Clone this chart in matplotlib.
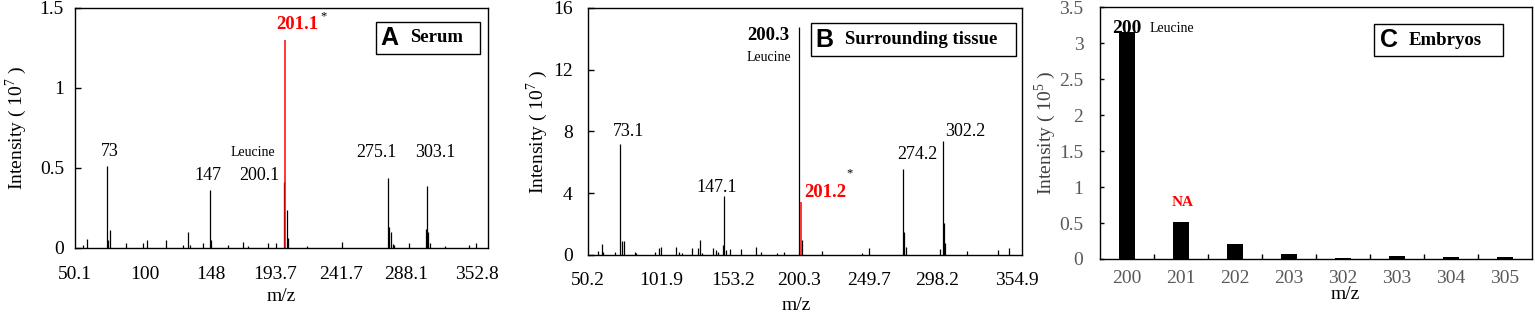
import numpy as np
import matplotlib
matplotlib.use("Agg")
import matplotlib.pyplot as plt
from matplotlib.patches import Rectangle

plt.rcParams['font.family'] = ['Liberation Serif', 'DejaVu Serif']
plt.rcParams['mathtext.fontset'] = 'custom'
plt.rcParams['mathtext.rm'] = 'Liberation Serif'

# ---- panel A: serum spectrum (intensity x 1e7) ----
serum_mz = [56.0, 58.9, 72.9, 73.6, 75.3, 86.8, 98.8, 101.7, 115.3, 127.5, 131.6, 132.8,
            142.4, 147.0, 147.6, 159.9, 170.7, 174.8, 189.2, 194.5, 200.1, 202.4, 203.5,
            216.8, 242.4, 275.1, 276.0, 277.3, 278.6, 279.6, 290.4, 302.4, 303.1, 304.0,
            305.5, 316.3, 333.8, 338.6]
serum_int = [0.02, 0.056, 0.514, 0.05, 0.11, 0.03, 0.03, 0.05, 0.05, 0.02, 0.10, 0.02,
             0.03, 0.36, 0.05, 0.02, 0.04, 0.01, 0.03, 0.03, 0.41, 0.24, 0.06,
             0.01, 0.04, 0.44, 0.13, 0.10, 0.025, 0.02, 0.03, 0.12, 0.39, 0.10,
             0.03, 0.01, 0.02, 0.03]
serum_red_mz = [201.1]
serum_red_int = [1.30]
serum_ticks = [50.1, 100, 148, 193.7, 241.7, 288.1, 339.0]
serum_ticklabels = ['50.1', '100', '148', '193.7', '241.7', '288.1', '352.8']

# ---- panel B: surrounding tissue spectrum (intensity x 1e7) ----
tissue_mz = [57.4, 59.8, 60.5, 69.2, 73.1, 74.6, 75.4, 83.4, 84.6, 97.6, 100.7, 101.9,
             112.5, 114.8, 117.3, 124.3, 128.3, 129.5, 131.4, 139.2, 140.9, 142.5,
             145.8, 147.1, 148.0, 150.8, 158.6, 169.7, 172.8, 184.6, 189.3, 200.3,
             202.0, 216.5, 244.9, 250.0, 274.2, 275.1, 276.2, 300.0, 302.2, 303.1,
             304.2, 319.8, 341.4, 349.6]
tissue_int = [0.28, 0.70, 0.20, 0.17, 7.20, 0.93, 0.90, 0.20, 0.12, 0.17, 0.43, 0.55,
              0.55, 0.17, 0.12, 0.43, 0.43, 0.97, 0.10, 0.43, 0.30, 0.20,
              0.65, 3.85, 0.30, 0.40, 0.40, 0.54, 0.17, 0.10, 0.20, 14.77,
              0.97, 0.25, 0.12, 0.43, 5.56, 1.50, 0.55, 0.40, 7.39, 2.10,
              0.75, 0.25, 0.30, 0.43]
tissue_red_mz = [201.2]
tissue_red_int = [3.46]
tissue_ticks = [50.2, 101.9, 153.2, 200.3, 249.7, 298.2, 354.9]
tissue_ticklabels = ['50.2', '101.9', '153.2', '200.3', '249.7', '298.2', '354.9']

# ---- panel C: embryos (intensity x 1e5) ----
embryo_mz = ['200', '201', '202', '203', '302', '303', '304', '305']
embryo_int = [3.15, 0.51, 0.21, 0.07, 0.02, 0.045, 0.03, 0.03]

RED = '#ff0000'
GREY = '#595959'

fig = plt.figure(figsize=(15.35, 3.17), dpi=100)
axA = fig.add_axes([0.0489, 0.2177, 0.2691, 0.7571])
axB = fig.add_axes([0.3831, 0.1956, 0.2825, 0.7792])
axC = fig.add_axes([0.7166, 0.1830, 0.2814, 0.7940])


def panel_box(ax, x0, y0, w, h, letter, lx, title, tx, ty):
    ax.add_patch(Rectangle((x0, y0), w, h, transform=ax.transAxes, fill=False,
                           edgecolor='black', linewidth=1.0, zorder=5))
    ax.text(lx, ty, letter, transform=ax.transAxes, ha='center', va='center',
            family='Liberation Sans', fontweight='bold', fontsize=18)
    ax.text(tx, ty, title, transform=ax.transAxes, ha='center', va='center',
            fontweight='bold', fontsize=13.5)


for ax in (axA, axB, axC):
    for s in ax.spines.values():
        s.set_linewidth(1.0)

# A
axA.vlines(serum_mz, 0, serum_int, color='black', linewidth=0.9)
axA.vlines(serum_red_mz, 0, serum_red_int, color=RED, linewidth=1.1)
axA.set_xlim(50.1, 347.2)
axA.set_ylim(0, 1.5)
axA.set_yticks([0, 0.5, 1, 1.5])
axA.set_yticklabels(['0', '0.5', '1', '1.5'])
axA.set_xticks(serum_ticks)
axA.set_xticklabels(serum_ticklabels)
axA.tick_params(axis='x', length=0, pad=13, labelsize=14)
axA.tick_params(axis='y', direction='in', length=4, width=1, pad=8, labelsize=14)
axA.set_xlabel('m/z', fontsize=14)
axA.xaxis.set_label_coords(0.5, -0.165)
axA.set_ylabel('Intensity ( 10$^{7}$ )', fontsize=14)
axA.yaxis.set_label_coords(-0.112, 0.5)
axA.text(75.3, 0.6, '73', ha='center', va='center', fontsize=13)
axA.text(145.8, 0.456, '147', ha='center', va='center', fontsize=13)
axA.text(178.2, 0.594, 'Leucine', ha='center', va='center', fontsize=10)
axA.text(182.5, 0.456, '200.1', ha='center', va='center', fontsize=13)
axA.text(209.8, 1.394, '201.1', ha='center', va='center', fontsize=13.5,
         fontweight='bold', color=RED)
axA.text(228.5, 1.45, '*', ha='center', va='center', fontsize=9)
axA.text(266.6, 0.594, '275.1', ha='center', va='center', fontsize=13)
axA.text(309.0, 0.594, '303.1', ha='center', va='center', fontsize=13)
panel_box(axA, 0.729, 0.808, 0.252, 0.133, 'A', 0.760, 'Serum', 0.876, 0.875)

# B
axB.vlines(tissue_mz, 0, tissue_int, color='black', linewidth=0.9)
axB.vlines(tissue_red_mz, 0, tissue_red_int, color=RED, linewidth=1.1)
axB.set_xlim(50.8, 358.4)
axB.set_ylim(0, 16)
axB.set_yticks([0, 4, 8, 12, 16])
axB.set_xticks(tissue_ticks)
axB.set_xticklabels(tissue_ticklabels)
axB.tick_params(axis='x', length=0, pad=12, labelsize=14)
axB.tick_params(axis='y', direction='in', length=4, width=1, pad=11, labelsize=14)
axB.set_xlabel('m/z', fontsize=14)
axB.xaxis.set_label_coords(0.48, -0.17)
axB.set_ylabel('Intensity ( 10$^{7}$ )', fontsize=14)
axB.yaxis.set_label_coords(-0.088, 0.5)
axB.text(79.2, 7.97, '73.1', ha='center', va='center', fontsize=13)
axB.text(141.6, 4.4, '147.1', ha='center', va='center', fontsize=13)
axB.text(178.5, 14.25, '200.3', ha='center', va='center', fontsize=13.5,
         fontweight='bold')
axB.text(178.5, 12.82, 'Leucine', ha='center', va='center', fontsize=10)
axB.text(218.9, 4.08, '201.2', ha='center', va='center', fontsize=13.5,
         fontweight='bold', color=RED)
axB.text(235.9, 5.31, '*', ha='center', va='center', fontsize=9)
axB.text(284.1, 6.48, '274.2', ha='center', va='center', fontsize=13)
axB.text(318.2, 8.03, '302.2', ha='center', va='center', fontsize=13)
panel_box(axB, 0.5135, 0.806, 0.4735, 0.134, 'B', 0.544, 'Surrounding tissue',
          0.768, 0.872)

# C
xc = np.arange(len(embryo_mz))
axC.bar(xc, embryo_int, width=0.31, color='black')
axC.set_xlim(-0.5, len(embryo_mz) - 0.5)
axC.set_ylim(0, 3.5)
axC.set_yticks(np.arange(0, 3.51, 0.5))
axC.set_yticklabels(['0', '0.5', '1', '1.5', '2', '2.5', '3', '3.5'])
axC.set_xticks(xc)
axC.set_xticklabels(embryo_mz)
axC.set_xticks(xc[:-1] + 0.5, minor=True)
axC.tick_params(axis='x', which='major', length=0, pad=8, labelsize=14,
                labelcolor=GREY)
axC.tick_params(axis='x', which='minor', direction='in', length=3.5, width=1)
axC.tick_params(axis='y', direction='in', length=3, width=1, pad=12, labelsize=14,
                labelcolor=GREY)
axC.set_xlabel('m/z', fontsize=14)
axC.xaxis.set_label_coords(0.567, -0.108)
axC.set_ylabel('Intensity ( 10$^{5}$ )', fontsize=14, color='#404040')
axC.yaxis.set_label_coords(-0.097, 0.5)
axC.text(0, 3.2, '200', ha='center', va='center', fontsize=14, fontweight='bold')
axC.text(0.84, 3.2, 'Leucine', ha='center', va='center', fontsize=10)
axC.text(1.03, 0.79, 'NA', ha='center', va='center', fontsize=11,
         fontweight='bold', color=RED)
panel_box(axC, 0.634, 0.807, 0.299, 0.127, 'C', 0.669, 'Embryos', 0.799, 0.870)

fig.savefig('out.png', dpi=100)
